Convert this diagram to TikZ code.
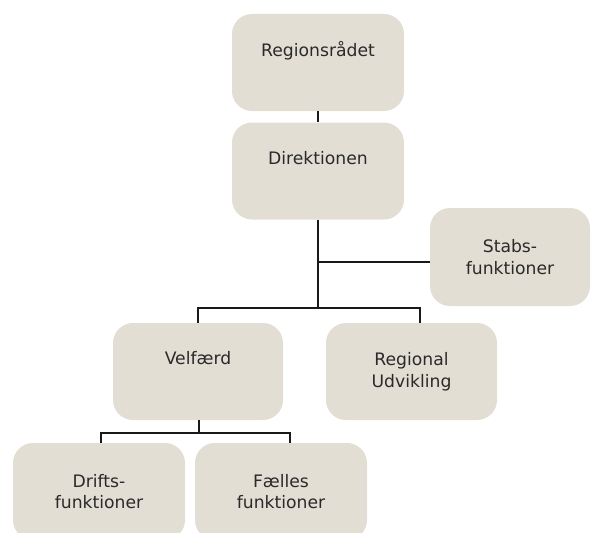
\documentclass[tikz,border=0pt]{standalone}
\usepackage{fontspec}
\setmainfont{DejaVu Sans}
\usepackage{tikz}
\usetikzlibrary{positioning}
\definecolor{cBox}{HTML}{E2DED4}
\definecolor{cText}{HTML}{2A2A2A}

\begin{document}
\begin{tikzpicture}[
  x=1pt,y=-1pt,
  b/.style={fill=cBox,rounded corners=20pt,align=center,text=cText,
            font=\fontsize{17.2}{21.5}\selectfont,inner sep=0pt,
            minimum width=172pt,minimum height=97pt},
  one/.style={text depth=26.5pt},
  ln/.style={draw=black!90,line width=2pt},
  ]
  \useasboundingbox (0,0) rectangle (593,532);
  \node[b,one] (reg) at (318,62.5) {Regionsrådet};
  \node[b,one] (dir) at (318,171) {Direktionen};
  \node[b,minimum width=160pt,minimum height=98pt] (stabs) at (510,257)
    {Stabs-\\funktioner};
  \node[b,one,minimum width=170pt] (velf) at (198,371.5) {Velfærd};
  \node[b,minimum width=171pt] (regu) at (411.5,371.5) {Regional\\Udvikling};
  \node[b] (drift) at (99,491.5) {Drifts-\\funktioner};
  \node[b] (faelles) at (281,491.5) {Fælles\\funktioner};

  \coordinate (st) at (318,262);
  \coordinate (bar) at (318,308);
  \coordinate (barL) at (198,308);
  \coordinate (barR) at (420,308);
  \coordinate (low) at (199,433);
  \coordinate (lowL) at (101,433);
  \coordinate (lowR) at (290,433);

  \draw[ln] (reg) -- (dir);
  \draw[ln] (dir) -- (bar);
  \draw[ln] (st) -- (st -| stabs.west);
  \draw[ln] (barL |- velf.north) -- (barL) -- (barR) -- (barR |- regu.north);
  \draw[ln] (velf.south -| low) -- (low);
  \draw[ln] (lowL |- drift.north) -- (lowL) -- (lowR) -- (lowR |- faelles.north);
\end{tikzpicture}
\end{document}
